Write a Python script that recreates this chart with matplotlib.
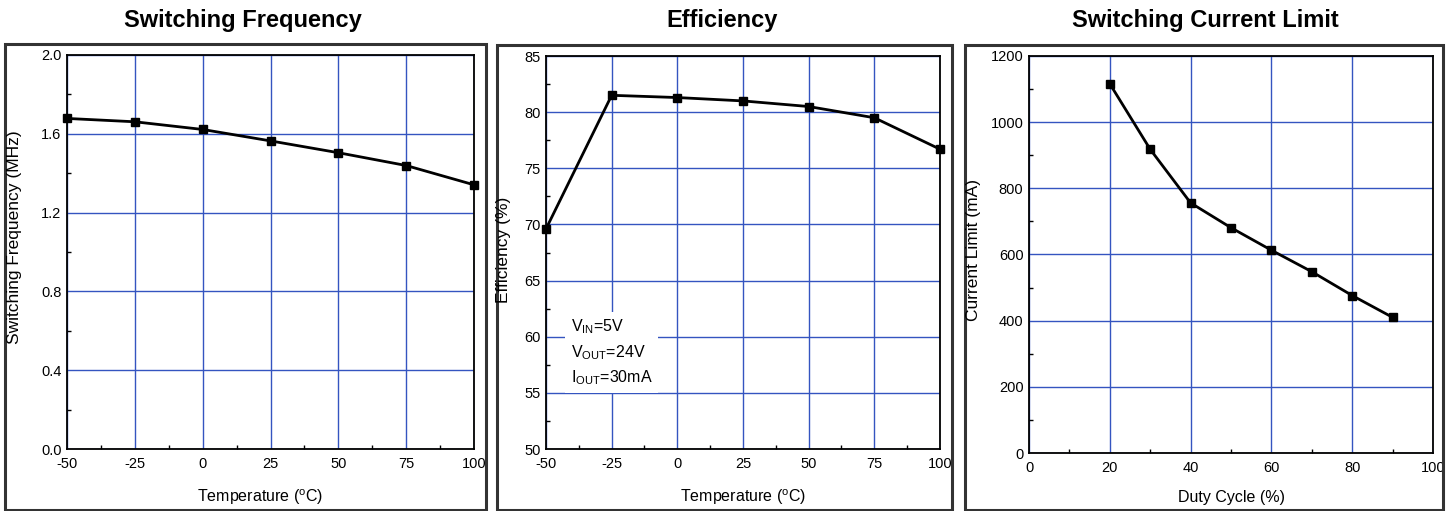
import matplotlib
matplotlib.use("Agg")
import matplotlib.pyplot as plt
from matplotlib.patches import Rectangle
from matplotlib.ticker import MultipleLocator

plt.rcParams['font.family'] = ['Liberation Sans', 'DejaVu Sans']
plt.rcParams['mathtext.fontset'] = 'custom'
plt.rcParams['mathtext.rm'] = 'Liberation Sans'
plt.rcParams['mathtext.default'] = 'regular'
plt.rcParams['axes.unicode_minus'] = False

# 数据
temp = [-50, -25, 0, 25, 50, 75, 100]
freq_mhz = [1.678, 1.661, 1.622, 1.564, 1.504, 1.439, 1.341]
eff_pct = [69.6, 81.5, 81.3, 81.0, 80.5, 79.5, 76.7]
duty = [20, 30, 40, 50, 60, 70, 80, 90]
ilim_ma = [1116, 918, 756, 681, 613, 548, 476, 410]

titles = ["Switching Frequency", "Efficiency", "Switching Current Limit"]
ylabels = ["Switching Frequency (MHz)", "Efficiency (%)", "Current Limit (mA)"]
xlabels = [r"Temperature ($^{o}$C)", r"Temperature ($^{o}$C)", "Duty Cycle (%)"]

W, H = 1451, 511
fig = plt.figure(figsize=(W / 100, H / 100), dpi=100)

def px(x0, y0, x1, y1):
    # 像素框 -> figure 坐标
    return [x0 / W, 1 - y1 / H, (x1 - x0) / W, (y1 - y0) / H]

ax_boxes = [px(67, 55, 474, 449), px(546, 56, 940, 449), px(1029, 56, 1433, 453)]
frames = [(5, 44, 486, 510), (497, 45, 952, 510), (965, 45, 1443, 510)]
title_x = [243, 722, 1205]
ylabel_x = [15, 504, 974]
ylabel_y = [237, 250, 250]
xlabel_x = [260, 743, 1231]

grid_col = '#3454c0'

axes = []
for i in range(3):
    ax = fig.add_axes(ax_boxes[i])
    axes.append(ax)
    x0, y0, x1, y1 = frames[i]
    fig.patches.append(Rectangle((x0 / W, 1 - y1 / H), (x1 - x0) / W, (y1 - y0) / H,
                                 transform=fig.transFigure, fill=False,
                                 edgecolor='#333333', linewidth=2.2))
    fig.text(title_x[i] / W, 1 - 20 / H, titles[i], ha='center', va='center',
             fontsize=17, fontweight='bold')
    fig.text(ylabel_x[i] / W, 1 - ylabel_y[i] / H, ylabels[i], rotation=90,
             ha='center', va='center', fontsize=12.5)
    fig.text(xlabel_x[i] / W, 1 - 497 / H, xlabels[i], ha='center', va='center',
             fontsize=11.5)
    ax.grid(True, color=grid_col, linewidth=1.0)
    ax.set_axisbelow(True)
    for s in ax.spines.values():
        s.set_linewidth(1.3)
    ax.tick_params(which='both', direction='in', labelsize=10.5)
    ax.tick_params(axis='y', pad=4)
    ax.tick_params(axis='x', pad=6)
    ax.tick_params(which='major', length=0)
    ax.tick_params(which='minor', length=3, width=1)

# 开关频率
ax = axes[0]
ax.plot(temp, freq_mhz, color='black', lw=2, marker='s', ms=6, clip_on=False, zorder=3)
ax.set_xlim(-50, 100)
ax.set_ylim(0, 2.0)
ax.xaxis.set_major_locator(MultipleLocator(25))
ax.xaxis.set_minor_locator(MultipleLocator(12.5))
ax.yaxis.set_major_locator(MultipleLocator(0.4))
ax.yaxis.set_minor_locator(MultipleLocator(0.2))
ax.yaxis.set_major_formatter(lambda v, p: f"{v:.1f}")

# 效率
ax = axes[1]
ax.plot(temp, eff_pct, color='black', lw=2, marker='s', ms=6, clip_on=False, zorder=3)
ax.set_xlim(-50, 100)
ax.set_ylim(50, 85)
ax.xaxis.set_major_locator(MultipleLocator(25))
ax.xaxis.set_minor_locator(MultipleLocator(12.5))
ax.yaxis.set_major_locator(MultipleLocator(5))
ax.yaxis.set_minor_locator(MultipleLocator(2.5))
ax.text(-40.5, 58.6, "V$_{IN}$=5V\nV$_{OUT}$=24V\nI$_{OUT}$=30mA", fontsize=11.5,
        va='center', ha='left', linespacing=1.5,
        bbox=dict(facecolor='white', edgecolor='none', pad=4), zorder=4)

# 开关电流限制
ax = axes[2]
ax.plot(duty, ilim_ma, color='black', lw=2, marker='s', ms=6, clip_on=False, zorder=3)
ax.set_xlim(0, 100)
ax.set_ylim(0, 1200)
ax.xaxis.set_major_locator(MultipleLocator(20))
ax.xaxis.set_minor_locator(MultipleLocator(10))
ax.yaxis.set_major_locator(MultipleLocator(200))
ax.yaxis.set_minor_locator(MultipleLocator(100))

fig.savefig("out.png", dpi=100)
